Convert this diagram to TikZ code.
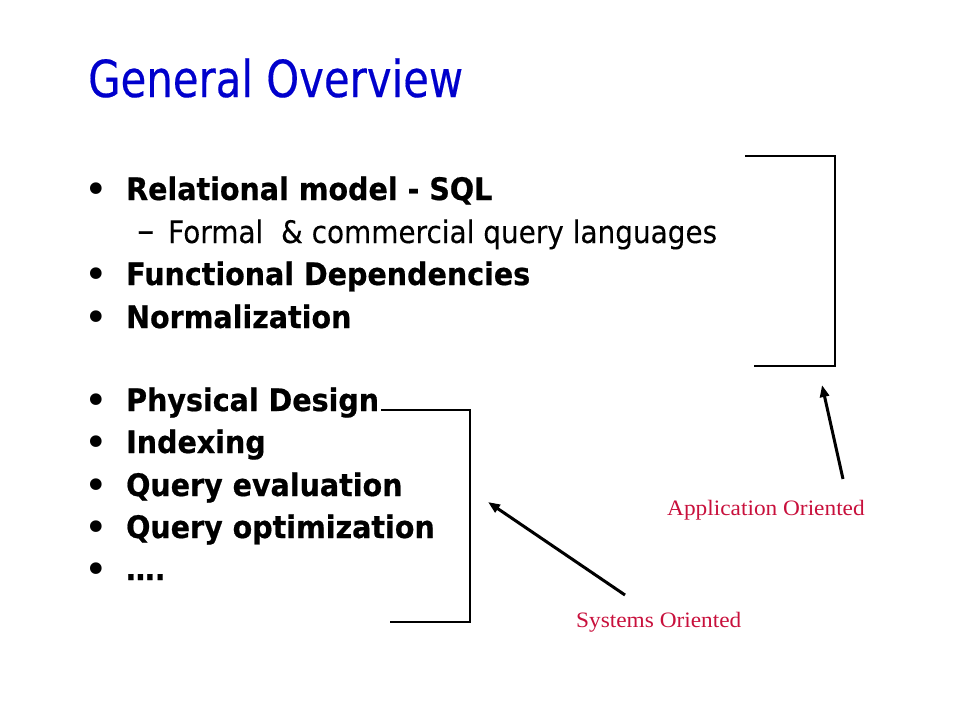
\documentclass[tikz,border=0pt]{standalone}
\usepackage{fontspec}
\usetikzlibrary{arrows.meta}
\setmainfont{DejaVu Sans}
\newfontfamily\titlefont[FakeStretch=0.82,FakeBold=0.3]{DejaVu Sans}
\newfontfamily\boldfont[FakeStretch=0.92,FakeBold=0.6]{DejaVu Sans Bold}
\newfontfamily\plainfont[FakeStretch=0.90,FakeBold=0.2]{DejaVu Sans}
\newfontfamily\labelfont[FakeStretch=1.06]{Liberation Serif}
\definecolor{titleblue}{RGB}{0,0,204}
\definecolor{labelred}{RGB}{200,16,60}
\tikzset{
  txt/.style={inner sep=0pt, anchor=base west},
  item/.style={txt, font=\boldfont\fontsize{31}{31}\selectfont},
  subitem/.style={txt, font=\plainfont\fontsize{31}{31}\selectfont},
  bul/.style={inner sep=0pt, anchor=base, font=\fontsize{40}{40}\selectfont},
  lbl/.style={txt, text=labelred, font=\labelfont\fontsize{22}{22}\selectfont},
  brk/.style={line width=1.4pt, black},
  arr/.style={line width=3pt, -{Triangle[length=12pt,width=9pt]}}
}
\begin{document}
\begin{tikzpicture}[x=1pt,y=-1pt]
\useasboundingbox (0,0) rectangle (960,720);
\node[txt, text=titleblue, font=\titlefont\fontsize{51}{51}\selectfont] (title) at (88,97) {General Overview};

\node[bul] (b1) at (96,203) {•};
\node[item] (t1) at (126,200) {Relational model - SQL};
\node[subitem, font=\plainfont\fontsize{38}{38}\selectfont] (d1) at (137,243) {–};
\node[subitem] (s1) at (168,243) {Formal \ \& commercial query languages};
\node[bul] (b2) at (96,288) {•};
\node[item] (t2) at (126,285) {Functional Dependencies};
\node[bul] (b3) at (96,331) {•};
\node[item] (t3) at (126,328) {Normalization};

\node[bul] (b4) at (96,414) {•};
\node[item] (t4) at (126,411) {Physical Design};
\node[bul] (b5) at (96,456) {•};
\node[item] (t5) at (126,453) {Indexing};
\node[bul] (b6) at (96,499) {•};
\node[item] (t6) at (126,496) {Query evaluation};
\node[bul] (b7) at (96,541) {•};
\node[item] (t7) at (126,538) {Query optimization};
\node[bul] (b8) at (96,583) {•};
\node[item] (t8) at (126,580) {….};

\coordinate (a1) at (745,156);
\coordinate (a2) at (835,156);
\coordinate (a3) at (835,366);
\coordinate (a4) at (754,366);
\draw[brk] (a1) -- (a2) -- (a3) -- (a4);

\coordinate (c1) at (381,410);
\coordinate (c2) at (470,410);
\coordinate (c3) at (470,622);
\coordinate (c4) at (390,622);
\draw[brk] (c1) -- (c2) -- (c3) -- (c4);

\node[lbl] (app) at (667,515) {Application Oriented};
\node[lbl] (sys) at (576,627) {Systems Oriented};

\coordinate (appS) at (843,479);
\coordinate (appE) at (822,385);
\draw[arr] (appS) -- (appE);
\coordinate (sysS) at (625,595);
\coordinate (sysE) at (488,502);
\draw[arr] (sysS) -- (sysE);
\end{tikzpicture}
\end{document}
